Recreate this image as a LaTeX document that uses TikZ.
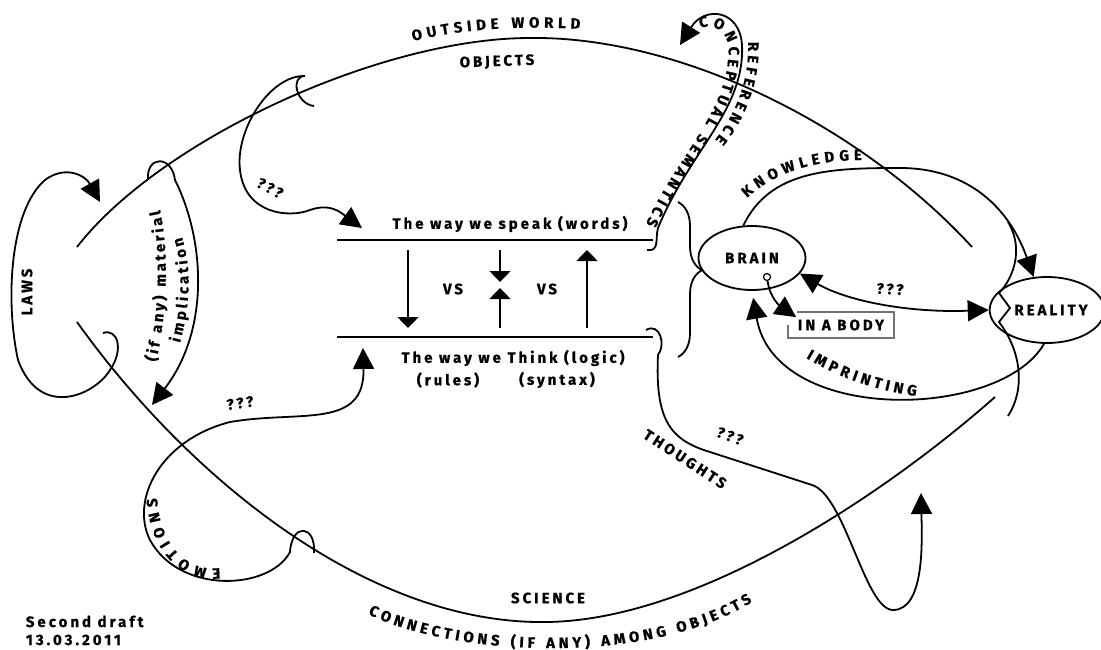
\documentclass[tikz,border=0pt]{standalone}
\usepackage{fontspec}
\setmainfont{Fira Sans}
\usepackage{tikz}
\usetikzlibrary{arrows.meta,positioning,shapes.geometric,decorations.text,decorations.pathreplacing}

\newcommand{\lblfont}{\fontsize{15}{18}\selectfont\bfseries\addfontfeatures{LetterSpace=20,FakeBold=0.8}}
\newcommand{\pathfont}{\fontsize{15}{18}\selectfont\bfseries\addfontfeatures{FakeBold=0.8}}

\begin{document}
\begin{tikzpicture}[x=1pt,y=-1pt,>={Triangle[length=21pt,width=21pt]},line width=1.8pt,
    lbl/.style={font=\lblfont,inner sep=1pt},
    state/.style={ellipse,draw,line width=1.8pt,font=\lblfont,inner sep=0pt},
    flat/.style={-{Triangle[length=11pt,width=21pt]},line width=1.6pt},
    along/.style={decorate,decoration={text along path,text={|\pathfont|#1},text align=fit to path}}]

    \useasboundingbox (0,0) rectangle (1101,650);

    % The world
    \draw (77,247) .. controls (160,140) and (380,38) .. (530,38)
        .. controls (680,36) and (860,125) .. (972,247);
    \draw (77,322) .. controls (190,480) and (370,625) .. (547,622)
        .. controls (700,620) and (890,490) .. (995,397);
    \path[along={OUTSIDE WORLD}] (413,41) .. controls (470,27) and (530,26) .. (580,29);
    \node [lbl,rotate=2] at (497,62) (objects) {OBJECTS};
    \node [lbl] at (548,598) (science) {SCIENCE};
    \path[along={CONNECTIONS (IF ANY) AMONG OBJECTS}] (368,614) .. controls (450,655) and (645,668) .. (752,602);

    % Speaking and thinking
    \coordinate (sL) at (337,240);
    \coordinate (sR) at (653,240);
    \coordinate (tL) at (337,337);
    \coordinate (tR) at (653,337);
    \draw[line width=2.6pt] (sL) -- (sR);
    \draw[line width=2.6pt] (tL) -- (tR);
    \node [lbl] at (510,224) (speak) {The way we speak (words)};
    \node [lbl] at (513,358) (think) {The way we Think (logic)};
    \node [lbl] at (448,380) (rules) {(rules)};
    \node [lbl] at (557,380) (syntax) {(syntax)};
    \node [lbl] at (453,289) (vs1) {VS};
    \node [lbl] at (547,289) (vs2) {VS};
    \foreach \x/\a/\b in {408/250/328, 587/328/250, 500/250/282, 500/328/288}
        \draw[flat] (\x,\a) -- (\x,\b);
    \draw[decorate,decoration={brace,amplitude=24pt,aspect=0.44}] (678,202) -- (678,357);

    % Semantics
    \draw[->] (647,250) .. controls (660,252) and (655,238) .. (658,228)
        .. controls (690,150) and (745,110) .. (742,45)
        .. controls (740,10) and (705,5) .. (680,45);
    \path[along={CONCEPTUAL SEMANTICS}] (700,28) .. controls (718,22) and (732,35) .. (728,60)
        .. controls (724,115) and (672,165) .. (646,224);
    \path[along={REFERENCE}] (748,42) .. controls (750,80) and (735,115) .. (715,140);

    % Brain and reality
    \node [state,minimum width=107pt,minimum height=64pt] at (752,258) (brain) {BRAIN};
    \node [state,minimum width=104pt,minimum height=66pt] at (1047,310) (reality) {\hspace*{8pt}REALITY};
    \node [lbl,minimum width=104pt,minimum height=24pt,inner sep=0pt] at (841,325) (body) {IN A BODY};
    \draw[black!55,line width=1.4pt] (body.west) -- (body.south west) -- (body.south east)
        -- (body.north east) -- ([xshift=9pt]body.north west);
    \node [circle,draw,fill=white,line width=1.2pt,inner sep=0pt,minimum size=7pt] at (767,277) (dot) {};
    \draw[->] (dot) .. controls (770,298) and (780,306) .. ([xshift=8pt,yshift=-5pt]body.north west);
    \draw[<->] (brain.-18) .. controls (845,300) and (905,313) .. (reality.west);
    \node [lbl,rotate=-3] at (890,289) (q4) {???};
    \draw[->] (brain.105) .. controls (770,170) and (830,168) .. (900,168)
        .. controls (970,168) and (1010,210) .. (reality.112);
    \path[along={KNOWLEDGE}] (747,198) .. controls (775,172) and (815,160) .. (862,160);
    \draw (1008,222) .. controls (1025,250) and (1012,280) .. (999,293) -- (1010,308)
        -- (999,322) .. controls (1022,352) and (1025,390) .. (1008,416);
    \draw[->,shorten >=7pt] (reality.-95) .. controls (1000,420) and (775,425) .. (brain.south);
    \path[along={IMPRINTING}] (806,358) .. controls (840,378) and (875,390) .. (916,396);

    % Laws and implication
    \draw[->] (103,333) .. controls (118,328) and (124,350) .. (110,370)
        .. controls (95,395) and (40,420) .. (18,360)
        .. controls (5,300) and (10,210) .. (45,180)
        .. controls (65,165) and (85,175) .. (100,202);
    \node [lbl,rotate=90] at (27,292) (laws) {LAWS};
    \draw[->] (148,180) .. controls (146,155) and (172,155) .. (175,180)
        .. controls (205,240) and (210,330) .. (152,405);
    \path[along={(if any) material}] (156,362) .. controls (166,320) and (170,255) .. (160,210);
    \path[along={implication}] (180,343) .. controls (190,305) and (192,270) .. (182,237);

    % Question marks
    \draw[->] (314,106) .. controls (296,104) and (290,76) .. (305,76)
        .. controls (270,75) and (235,130) .. (240,170)
        .. controls (245,215) and (290,218) .. (310,210)
        .. controls (330,203) and (340,212) .. (362,228);
    \node [lbl,rotate=-28] at (270,188) (q1) {???};
    \draw[->] (314,553) .. controls (316,525) and (292,522) .. (290,552)
        .. controls (270,590) and (180,595) .. (150,540)
        .. controls (130,500) and (160,440) .. (230,422)
        .. controls (300,410) and (365,430) .. (363,348);
    \path[along={EMOTIONS}] (220,568) .. controls (186,572) and (160,545) .. (157,498);
    \node [lbl,rotate=8] at (240,403) (q2) {???};

    % Thoughts
    \draw[->] (646,330) .. controls (660,322) and (666,345) .. (658,355)
        .. controls (655,420) and (670,440) .. (710,452)
        -- (812,485) .. controls (845,495) and (865,610) .. (893,610)
        .. controls (925,610) and (922,540) .. (921,493);
    \node [lbl,rotate=-33] at (685,459) (thoughts) {THOUGHTS};
    \node [lbl,rotate=-20] at (730,436) (q5) {???};

    % Draft note
    \node [lbl,anchor=base west] at (24,627) (draft) {Second draft};
    \node [lbl,anchor=base west] at (24,645) (date) {13.03.2011};

\end{tikzpicture}
\end{document}
